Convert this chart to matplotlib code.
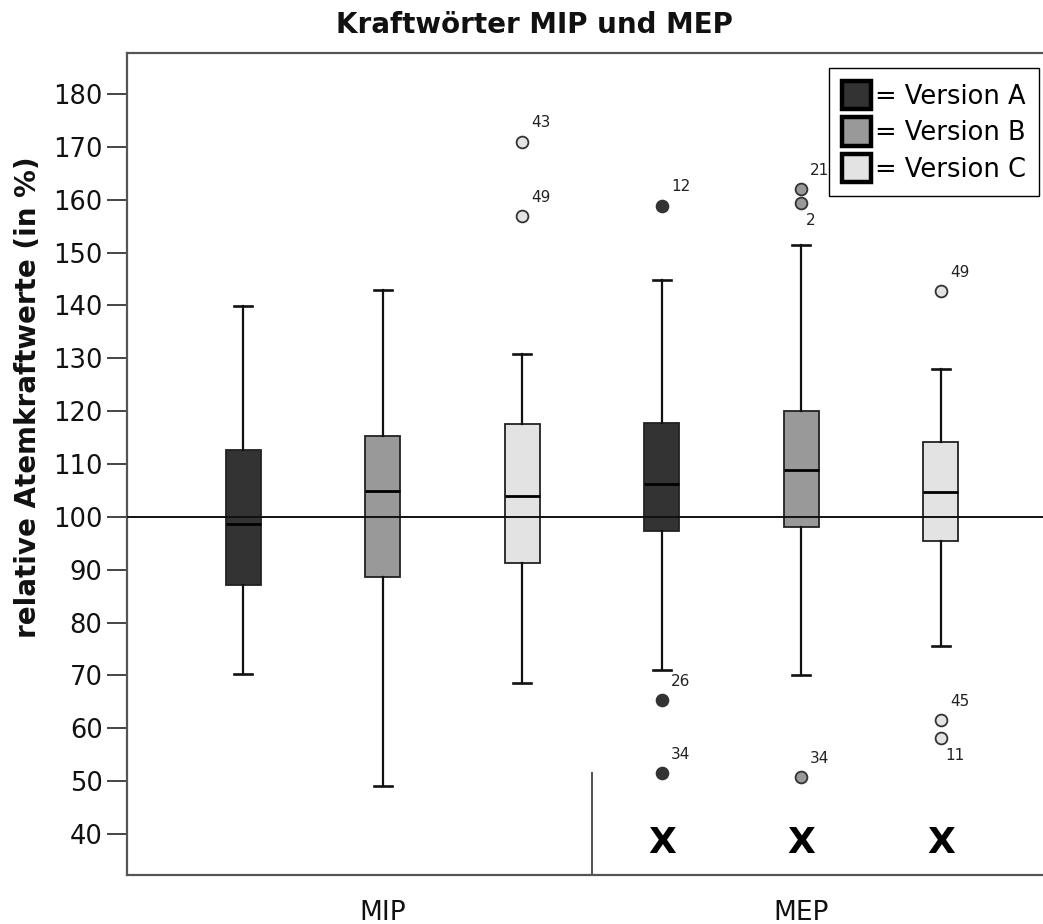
import matplotlib
matplotlib.use("Agg")
import matplotlib.pyplot as plt
from matplotlib.patches import Patch

# ---------------- data ----------------
groups = ["MIP", "MEP"]
versions = ["Version A", "Version B", "Version C"]
positions = [1, 2, 3, 4, 5, 6]
medians = [98.7, 104.9, 104.0, 106.2, 108.9, 104.7]
q1s = [87.1, 88.7, 91.3, 97.4, 98.1, 95.5]
q3s = [112.6, 115.3, 117.5, 117.8, 120.1, 114.1]
whis_lo = [70.2, 49.1, 68.6, 71.0, 70.1, 75.6]
whis_hi = [139.8, 142.9, 130.9, 144.9, 151.4, 128.0]
outliers = [[], [], [171.0, 156.9], [158.9, 65.3, 51.5], [162.0, 159.4, 50.8], [142.8, 61.6, 58.2]]
outlier_ids = [[], [], ["43", "49"], ["12", "26", "34"], ["21", "2", "34"], ["49", "45", "11"]]
outlier_label_dir = [[], [], ["up", "up"], ["up", "up", "up"], ["up", "down", "up"], ["up", "up", "down"]]
colors = ["#333333", "#999999", "#e3e3e3"]
box_colors = colors * 2
group_label_pos = [2, 5]
x_mark_pos = [4, 5, 6]
x_mark_y = 36.4
separator_x = 3.5
separator_top = 51.7
ref_value = 100
yticks = list(range(40, 190, 10))

# ---------------- figure ----------------
plt.rcParams['font.family'] = ['DejaVu Sans']
fig = plt.figure(figsize=(10.43, 9.24), dpi=100)
ax = fig.add_axes([0.1215, 0.053, 0.8785, 0.8893])

stats = []
for i in range(len(positions)):
    stats.append(dict(med=medians[i], q1=q1s[i], q3=q3s[i],
                      whislo=whis_lo[i], whishi=whis_hi[i], fliers=[]))

bp = ax.bxp(stats, positions=positions, widths=0.25, patch_artist=True,
            showfliers=False, capwidths=0.13,
            boxprops=dict(edgecolor="#222222", linewidth=1.3),
            whiskerprops=dict(color="#111111", linewidth=1.6),
            capprops=dict(color="#111111", linewidth=1.9),
            medianprops=dict(color="#000000", linewidth=2.0))
for patch, c in zip(bp["boxes"], box_colors):
    patch.set_facecolor(c)

# outliers
for i, pos in enumerate(positions):
    for v, lab, d in zip(outliers[i], outlier_ids[i], outlier_label_dir[i]):
        ax.plot([pos], [v], marker="o", markersize=8.5, markerfacecolor=box_colors[i],
                markeredgecolor="#333333", markeredgewidth=1.3, linestyle="none", zorder=5)
        if d == "up":
            ax.annotate(lab, (pos, v), xytext=(6.5, 8), textcoords="offset points",
                        ha="left", va="bottom", fontsize=11, color="#222222")
        else:
            ax.annotate(lab, (pos, v), xytext=(3, -7), textcoords="offset points",
                        ha="left", va="top", fontsize=11, color="#222222")

# reference line
ax.axhline(ref_value, color="#111111", linewidth=1.4, zorder=4)

# separator
ax.vlines(separator_x, 32.24, separator_top, color="#333333", linewidth=1.2)

# X marks
for p in x_mark_pos:
    ax.text(p, x_mark_y, "X", ha="center", va="baseline", fontsize=26,
            fontweight="bold", color="black")

ax.set_xlim(0.164, 6.733)
ax.set_ylim(32.24, 187.7)
ax.set_yticks(yticks)
ax.set_yticklabels([str(t) for t in yticks])
ax.set_xticks(group_label_pos)
ax.set_xticklabels(groups)
ax.tick_params(axis="y", length=14.4, width=1.4, color="#444444", pad=3,
               labelsize=18.5, labelcolor="#111111")
ax.tick_params(axis="x", length=0, pad=18, labelsize=19, labelcolor="#111111")

for s in ["left", "top", "bottom"]:
    ax.spines[s].set_color("#555555")
    ax.spines[s].set_linewidth(1.6)
ax.spines["right"].set_visible(False)

# legend
handles = [Patch(facecolor=c, edgecolor="black", linewidth=3.2) for c in colors]
leg = ax.legend(handles, ["= " + v for v in versions], loc="upper left",
                bbox_to_anchor=(0.7665, 0.982), fontsize=18.5,
                handlelength=1.15, handleheight=1.32, handletextpad=0.15,
                labelspacing=0.3, borderpad=0.5, borderaxespad=0,
                frameon=True, fancybox=False, framealpha=1)
leg.get_frame().set_edgecolor("black")
leg.get_frame().set_linewidth(1.0)

# titles
fig.text(0.512, 1 - 33 / 924, "Kraftwörter MIP und MEP", ha="center", va="baseline",
         fontsize=20, fontweight="bold", color="#111111")
fig.text(28 / 1043, 1 - 397 / 924, "relative Atemkraftwerte (in %)", rotation=90,
         ha="center", va="center", fontsize=20, fontweight="bold", color="#111111")

fig.savefig("out.png", dpi=100)
